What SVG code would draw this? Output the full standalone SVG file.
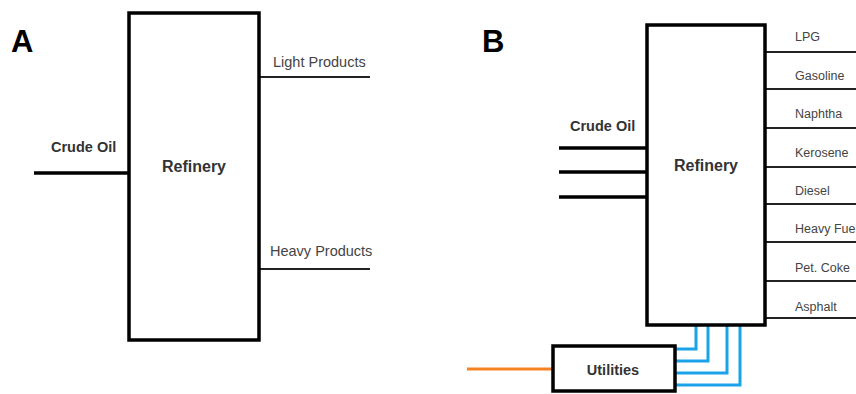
<svg xmlns="http://www.w3.org/2000/svg" width="856" height="394" viewBox="0 0 856 394">
<style>
.box{fill:#fff;stroke:#000;stroke-width:3.5}
.thick{stroke:#000;stroke-width:3.5;fill:none}
.thin{stroke:#222;stroke-width:2;fill:none}
.blue{stroke:#1aa3e8;stroke-width:3;fill:none}
.orange{stroke:#f58220;stroke-width:3;fill:none}
.panel{font-family:"Liberation Sans",Arial,sans-serif;font-weight:bold;font-size:31px;fill:#000}
.bl{font-family:"Liberation Sans",Arial,sans-serif;font-weight:bold;font-size:14.5px;fill:#333}
.big{font-family:"Liberation Sans",Arial,sans-serif;font-weight:bold;font-size:16px;fill:#333}
.lbl{font-family:"Liberation Sans",Arial,sans-serif;font-size:14.5px;fill:#444}
.lbs{font-family:"Liberation Sans",Arial,sans-serif;font-size:12.5px;fill:#444}
</style>
<rect width="856" height="394" fill="#fff"/>
<text class="panel" x="11" y="52">A</text>
<text class="panel" x="482" y="52">B</text>
<g id="connectors">
<line class="thick" x1="34" y1="173" x2="129" y2="173"/>
<line class="thin" x1="259" y1="77" x2="370" y2="77"/>
<line class="thin" x1="260" y1="269" x2="370" y2="269"/>
<line class="thick" x1="559" y1="148" x2="647" y2="148"/>
<line class="thick" x1="559" y1="172" x2="647" y2="172"/>
<line class="thick" x1="559" y1="197" x2="647" y2="197"/>
<line class="thin" x1="765" y1="52" x2="856" y2="52"/>
<line class="thin" x1="765" y1="89" x2="856" y2="89"/>
<line class="thin" x1="765" y1="128" x2="856" y2="128"/>
<line class="thin" x1="765" y1="167" x2="856" y2="167"/>
<line class="thin" x1="765" y1="204" x2="856" y2="204"/>
<line class="thin" x1="765" y1="242" x2="856" y2="242"/>
<line class="thin" x1="765" y1="281" x2="856" y2="281"/>
<line class="thin" x1="765" y1="318" x2="856" y2="318"/>
<line class="orange" x1="467" y1="369" x2="553" y2="369"/>
<polyline class="blue" points="696,326 696,349 675,349"/>
<polyline class="blue" points="708,326 708,361 675,361"/>
<polyline class="blue" points="727,326 727,373 675,373"/>
<polyline class="blue" points="740,326 740,385 675,385"/>
</g>
<g id="refineryA">
<rect class="box" x="129" y="13" width="130" height="327"/>
<text class="big" x="194" y="172" text-anchor="middle">Refinery</text>
</g>
<g id="labelsA">
<text class="bl" x="51" y="152">Crude Oil</text>
<text class="lbl" x="273" y="67">Light Products</text>
<text class="lbl" x="270" y="256">Heavy Products</text>
</g>
<g id="refineryB">
<rect class="box" x="647" y="25" width="118" height="300"/>
<text class="big" x="706" y="171" text-anchor="middle">Refinery</text>
</g>
<g id="utilities">
<rect class="box" x="553" y="346" width="122" height="45"/>
<text class="bl" x="613" y="375" text-anchor="middle">Utilities</text>
</g>
<g id="labelsB">
<text class="bl" x="570" y="131">Crude Oil</text>
<text class="lbs" x="795" y="41">LPG</text>
<text class="lbs" x="795" y="80">Gasoline</text>
<text class="lbs" x="795" y="118">Naphtha</text>
<text class="lbs" x="795" y="157">Kerosene</text>
<text class="lbs" x="795" y="195">Diesel</text>
<text class="lbs" x="795" y="233">Heavy Fuel</text>
<text class="lbs" x="795" y="272">Pet. Coke</text>
<text class="lbs" x="795" y="311">Asphalt</text>
</g>
</svg>
